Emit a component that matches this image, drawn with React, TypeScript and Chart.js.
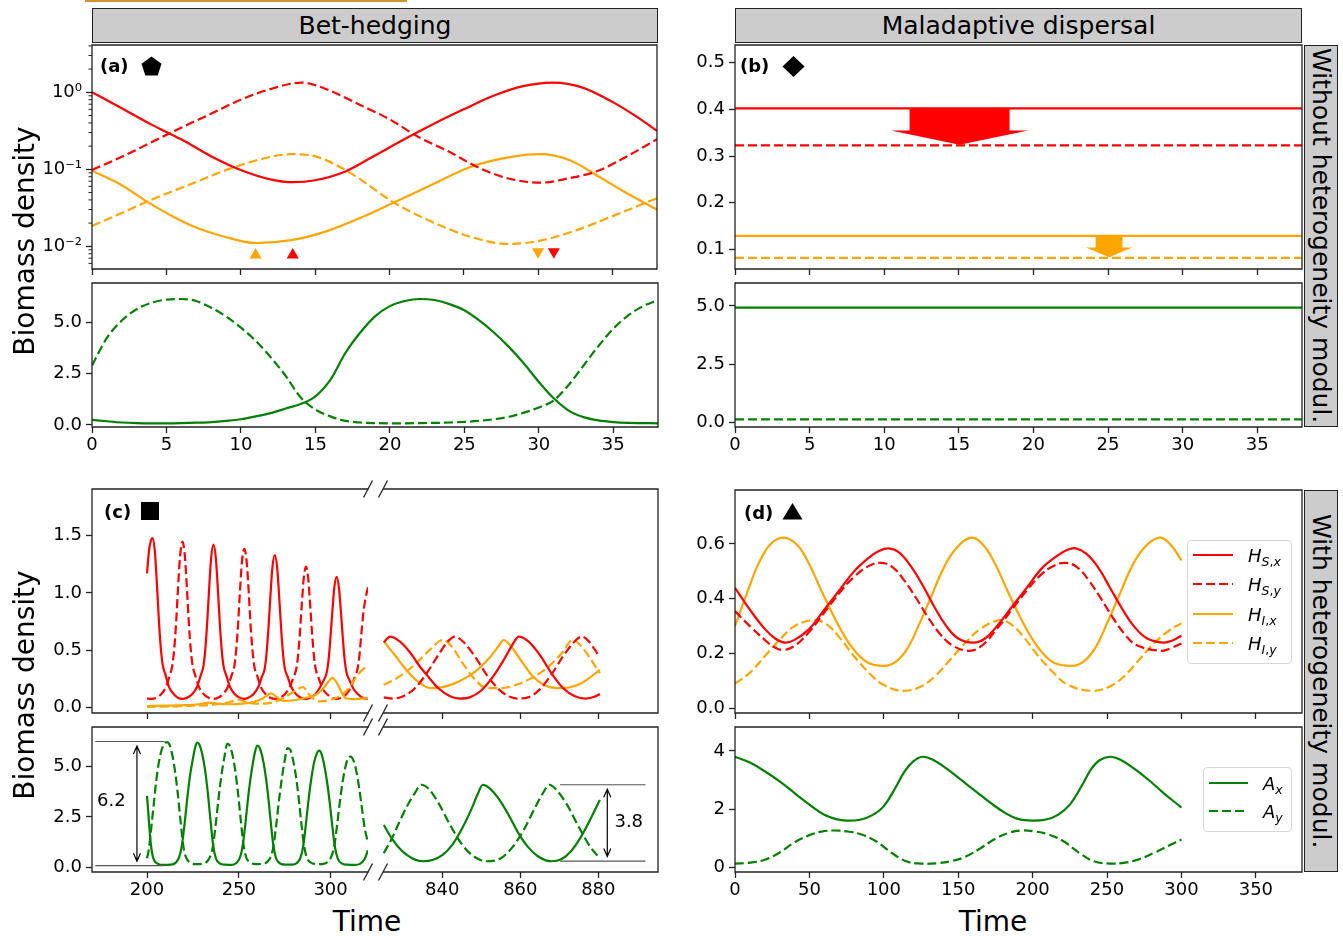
import React, { useEffect, useRef } from 'react';
import { Chart, registerables } from 'chart.js';

Chart.register(...registerables);

const RED = '#ff0000';
const ORANGE = '#ffa500';
const GREEN = '#008000';
const AX = '#222222';
const TXT = '#000000';
const DASH = [9, 4];
const FONT = "'DejaVu Sans', 'Liberation Sans', sans-serif";

type Pt = [number, number];

// ---------------- panel (a): bet-hedging, no heterogeneity ----------------
const aHSx: Pt[] = [[0, 1.0], [2, 0.62], [4, 0.38], [6, 0.245], [8, 0.148], [10, 0.098], [12, 0.074], [13.5, 0.068], [15, 0.072], [17, 0.093], [19, 0.15], [21, 0.245], [23, 0.39], [25, 0.6], [27, 0.9], [29, 1.2], [31, 1.335], [33, 1.15], [35, 0.75], [36.5, 0.5], [38, 0.316]];
const aHSy: Pt[] = [[0, 0.098], [2, 0.145], [4, 0.224], [6, 0.347], [8, 0.525], [10, 0.8], [12, 1.1], [14.1, 1.335], [16, 1.05], [18, 0.69], [20, 0.447], [22, 0.26], [24, 0.17], [26, 0.105], [28, 0.076], [30.2, 0.067], [32, 0.076], [34, 0.095], [36, 0.148], [38, 0.245]];
const aHIx: Pt[] = [[0, 0.096], [2, 0.062], [3.7, 0.038], [5.5, 0.024], [7, 0.0175], [8.8, 0.0135], [11, 0.011], [13.4, 0.012], [15.7, 0.0155], [18.3, 0.0245], [20.3, 0.037], [22.6, 0.0596], [25.5, 0.108], [28.3, 0.146], [30.1, 0.157], [32.1, 0.132], [34.1, 0.08], [35.8, 0.051], [38, 0.03]];
const aHIy: Pt[] = [[0, 0.0184], [1.8, 0.026], [3.7, 0.038], [6.8, 0.066], [9.3, 0.102], [11.6, 0.139], [13.4, 0.157], [15.1, 0.146], [17.4, 0.089], [20.3, 0.037], [22.6, 0.0219], [25.5, 0.0132], [28, 0.0107], [30.3, 0.012], [32.6, 0.0162], [35.5, 0.0269], [38, 0.042]];
const tA1 = [0, 1, 2, 3, 4, 5, 6, 7, 8, 9, 10, 11, 12, 13, 14, 15, 16, 17, 18, 19, 20, 21, 22, 23, 24, 25, 26, 27, 28, 29, 30, 31, 32, 33, 34, 35, 36, 37, 38];
const aAx = [0.25, 0.18, 0.12, 0.09, 0.08, 0.08, 0.09, 0.11, 0.14, 0.2, 0.28, 0.42, 0.58, 0.8, 1.02, 1.4, 2.2, 3.5, 4.5, 5.3, 5.8, 6.05, 6.15, 6.1, 5.9, 5.6, 5.1, 4.5, 3.8, 3.0, 2.1, 1.3, 0.7, 0.38, 0.22, 0.14, 0.1, 0.09, 0.08];
const aAy = [2.9, 4.25, 5.1, 5.65, 5.97, 6.12, 6.15, 6.05, 5.72, 5.3, 4.75, 4.1, 3.3, 2.4, 1.35, 0.75, 0.42, 0.2, 0.12, 0.09, 0.08, 0.08, 0.09, 0.1, 0.12, 0.15, 0.2, 0.28, 0.4, 0.6, 0.85, 1.2, 1.95, 2.9, 3.85, 4.7, 5.35, 5.8, 6.1];
const aMarkUpOrange = [11.0];
const aMarkUpRed = [13.5];
const aMarkDownOrange = [30.0];
const aMarkDownRed = [31.06];
const aMarkUpY = 0.0077;
const aMarkDownY = 0.0085;

// ---------------- panel (b): maladaptive dispersal, no heterogeneity ----------------
const tB = [0, 38];
const bHSx = 0.402;
const bHSy = 0.323;
const bHIx = 0.129;
const bHIy = 0.082;
const bAx = 4.93;
const bAy = 0.145;
// arrows: centre time, shaft half-width, head half-width (time units); top, head start, tip (density)
const bArrows = [
  { x: 15.05, shaft: 3.35, head: 4.6, top: 0.402, neck: 0.355, tip: 0.324 },
  { x: 25.07, shaft: 0.9, head: 1.55, top: 0.129, neck: 0.104, tip: 0.083 },
];

// ---------------- panel (c): bet-hedging, with heterogeneity ----------------
const cHSxL: Pt[] = [
  [200, 1.17], [201, 1.36], [202, 1.45], [203, 1.477], [204.3, 1.35], [205.5, 1.04], [206.5, 0.75], [207.5, 0.52], [208.5, 0.375], [210, 0.29], [212, 0.18], [214.5, 0.12], [217, 0.085], [219.2, 0.077],
  [221.5, 0.085], [224.7, 0.12], [227.2, 0.18], [229.2, 0.28], [230.7, 0.36], [231.7, 0.5], [232.7, 0.72], [233.7, 1.0], [234.9, 1.3], [236.2, 1.42], [237.5, 1.3], [238.7, 1.0], [239.7, 0.72], [240.7, 0.5], [241.7, 0.36], [243.2, 0.28], [245.2, 0.18], [247.7, 0.12], [250.7, 0.085], [252.8, 0.077],
  [254.9, 0.085], [258.1, 0.12], [260.6, 0.18], [262.6, 0.27], [264.1, 0.34], [265.1, 0.47], [266.1, 0.68], [267.1, 0.94], [268.3, 1.22], [269.6, 1.33], [270.9, 1.22], [272.1, 0.94], [273.1, 0.68], [274.1, 0.47], [275.1, 0.34], [276.6, 0.27], [278.6, 0.18], [281.1, 0.12], [284.1, 0.085], [286.4, 0.077],
  [288.6, 0.085], [291.8, 0.12], [294.3, 0.18], [296.3, 0.24], [297.8, 0.3], [298.8, 0.4], [299.8, 0.58], [300.8, 0.8], [302, 1.04], [303.3, 1.14], [304.6, 1.04], [305.8, 0.8], [306.8, 0.58], [307.8, 0.4], [308.8, 0.3], [310.3, 0.24], [312.3, 0.17], [314.8, 0.12], [317.8, 0.085], [320.4, 0.078],
];
const cHSyL: Pt[] = [
  [200, 0.08], [202.6, 0.077], [204.8, 0.085], [207.8, 0.12], [210.3, 0.18], [212.3, 0.28], [213.8, 0.37], [214.8, 0.51], [215.8, 0.73], [216.8, 1.02], [218, 1.32], [219.3, 1.447], [220.6, 1.32], [221.8, 1.02], [222.8, 0.73], [223.8, 0.51], [224.8, 0.37], [226.3, 0.28], [228.3, 0.18], [230.8, 0.12], [233.8, 0.085], [236.1, 0.077],
  [238.3, 0.085], [241.5, 0.12], [244, 0.18], [246, 0.28], [247.5, 0.355], [248.5, 0.49], [249.5, 0.7], [250.5, 0.98], [251.7, 1.27], [253, 1.384], [254.3, 1.27], [255.5, 0.98], [256.5, 0.7], [257.5, 0.49], [258.5, 0.355], [260, 0.28], [262, 0.18], [264.5, 0.12], [267.5, 0.085], [269.8, 0.077],
  [272, 0.085], [275.2, 0.12], [277.7, 0.18], [279.7, 0.26], [281.2, 0.33], [282.2, 0.44], [283.2, 0.63], [284.2, 0.87], [285.4, 1.13], [286.6, 1.23], [287.8, 1.13], [289, 0.87], [290, 0.63], [291, 0.44], [292, 0.33], [293.5, 0.26], [295.5, 0.17], [298, 0.12], [301, 0.085], [303.3, 0.077],
  [305.5, 0.085], [308.7, 0.12], [311.2, 0.18], [313.2, 0.27], [314.7, 0.34], [315.7, 0.45], [316.7, 0.63], [317.7, 0.8], [318.7, 0.92], [320.4, 1.05],
];
const cHIxL: Pt[] = [[200, 0.015], [210, 0.018], [220, 0.022], [228, 0.03], [233.7, 0.045], [238, 0.035], [245, 0.03], [252, 0.035], [258, 0.05], [263, 0.08], [267.6, 0.125], [271, 0.09], [274, 0.06], [280, 0.065], [286, 0.085], [290.3, 0.1], [295, 0.15], [298.5, 0.22], [301, 0.26], [304, 0.2], [306.5, 0.12], [308.6, 0.08], [314, 0.075], [320.4, 0.085]];
const cHIyL: Pt[] = [[200, 0.008], [215, 0.012], [225, 0.018], [235, 0.025], [244, 0.045], [250, 0.07], [254, 0.05], [260, 0.035], [268, 0.045], [274, 0.08], [279, 0.13], [284.9, 0.18], [289, 0.1], [294, 0.055], [300, 0.07], [305, 0.1], [310, 0.17], [314, 0.27], [318, 0.34], [320.4, 0.365]];
const cHSxR: Pt[] = [[825, 0.57], [826.6, 0.62], [829, 0.58], [832, 0.47], [834, 0.37], [836.4, 0.27], [839, 0.17], [842, 0.1], [844.5, 0.08], [847, 0.09], [850, 0.15], [853, 0.27], [856, 0.43], [858, 0.55], [859.6, 0.62], [862, 0.58], [865, 0.46], [868, 0.3], [871, 0.17], [874, 0.1], [876.8, 0.08], [879, 0.095], [880.4, 0.12]];
const cHSyR: Pt[] = [[825, 0.09], [827.4, 0.08], [830, 0.1], [833, 0.17], [836, 0.3], [839, 0.46], [841.5, 0.58], [843.2, 0.62], [845.5, 0.57], [848.5, 0.44], [851.5, 0.28], [854.5, 0.16], [857, 0.1], [859.3, 0.08], [862, 0.09], [865, 0.16], [868, 0.29], [871, 0.45], [874, 0.58], [875.7, 0.62], [877.5, 0.58], [880.4, 0.44]];
const cHIxR: Pt[] = [[825, 0.58], [828, 0.45], [831, 0.32], [834, 0.22], [837, 0.17], [840, 0.18], [843, 0.21], [846, 0.26], [849, 0.33], [852, 0.43], [854.5, 0.54], [855.7, 0.59], [857.5, 0.54], [860, 0.42], [863, 0.28], [866, 0.2], [869.5, 0.17], [873, 0.18], [876, 0.22], [880.4, 0.33]];
const cHIyR: Pt[] = [[825, 0.2], [828, 0.25], [831, 0.32], [834, 0.41], [837, 0.51], [840.1, 0.59], [842.5, 0.53], [845, 0.4], [848, 0.26], [851.5, 0.17], [855, 0.17], [859, 0.2], [863, 0.26], [867, 0.35], [870.5, 0.47], [873.5, 0.59], [876, 0.52], [878.5, 0.4], [880.4, 0.3]];
const cAxL: Pt[] = [[200, 3.55], [201, 2.3], [202, 1.2], [203, 0.6], [204, 0.32], [206, 0.17], [209, 0.12], [213, 0.13], [215.5, 0.22], [217.5, 0.5], [219, 1.1], [220.5, 2.2], [222, 3.5], [223.5, 4.6], [225, 5.4], [226.2, 5.95], [227.3, 6.2], [228.5, 6.1], [230, 5.65], [231.5, 4.9], [233, 3.8], [234.5, 2.4], [236, 1.1], [237.5, 0.45], [239.5, 0.2], [242.5, 0.13], [246, 0.12], [248.5, 0.2], [250.5, 0.45], [252, 1.0], [253.5, 2.1], [255, 3.4], [256.5, 4.5], [258, 5.35], [259, 5.8], [260.1, 6.05], [261.3, 5.95], [262.8, 5.5], [264.3, 4.75], [265.8, 3.7], [267.3, 2.35], [268.8, 1.1], [270.3, 0.45], [272.3, 0.2], [275.5, 0.13], [279, 0.13], [281.5, 0.2], [283.5, 0.45], [285, 1.0], [286.5, 2.1], [288, 3.35], [289.5, 4.4], [291, 5.2], [292.5, 5.65], [293.8, 5.8], [295, 5.65], [296.5, 5.1], [298, 4.3], [299.5, 3.25], [301, 2.0], [302.5, 0.95], [304, 0.42], [306, 0.2], [309, 0.13], [313, 0.12], [316, 0.17], [318.5, 0.4], [320.4, 0.85]];
const cAyL: Pt[] = [[200, 0.45], [201, 0.9], [202, 1.7], [203.5, 3.0], [205, 4.3], [206.5, 5.25], [208, 5.85], [209.5, 6.15], [210.9, 6.22], [212.2, 6.1], [213.7, 5.6], [215.2, 4.8], [216.7, 3.7], [218.2, 2.35], [219.7, 1.1], [221.2, 0.5], [223.2, 0.25], [226.5, 0.16], [230, 0.17], [232.5, 0.27], [234.5, 0.55], [236, 1.1], [237.5, 2.2], [239, 3.45], [240.5, 4.55], [242, 5.4], [243.7, 6.13], [245, 6.05], [246.5, 5.6], [248, 4.85], [249.5, 3.75], [251, 2.4], [252.5, 1.15], [254, 0.5], [256, 0.25], [259.5, 0.16], [263, 0.17], [265.5, 0.27], [267.5, 0.55], [269, 1.1], [270.5, 2.2], [272, 3.4], [273.5, 4.45], [275, 5.3], [276.5, 5.92], [278, 5.85], [279.5, 5.35], [281, 4.6], [282.5, 3.55], [284, 2.25], [285.5, 1.1], [287, 0.5], [289, 0.25], [292.5, 0.16], [296, 0.17], [298.5, 0.27], [300.5, 0.55], [302, 1.05], [303.5, 2.05], [305, 3.2], [306.5, 4.2], [308, 4.95], [309.5, 5.4], [311, 5.5], [312.5, 5.3], [314, 4.8], [315.5, 4.0], [317, 3.0], [318.5, 2.0], [320.4, 1.2]];
const cAxR: Pt[] = [[825, 2.1], [827, 1.45], [829, 0.95], [831, 0.6], [833, 0.38], [835.1, 0.3], [837.5, 0.36], [840, 0.6], [842.5, 1.1], [845, 1.9], [847.5, 2.9], [849, 3.6], [850.4, 4.1], [852, 3.95], [854.5, 3.4], [857, 2.6], [859.5, 1.7], [862, 1.0], [864.5, 0.55], [867.9, 0.3], [870.5, 0.4], [873, 0.8], [875.5, 1.5], [878, 2.4], [880.4, 3.35]];
const cAyR: Pt[] = [[825, 0.7], [827, 1.4], [829, 2.25], [831, 3.05], [833, 3.7], [834.6, 4.1], [836.5, 3.9], [839, 3.2], [842, 2.1], [845, 1.15], [848, 0.55], [851.5, 0.3], [855, 0.45], [858, 1.0], [861, 1.9], [864, 3.05], [866, 3.75], [867.4, 4.1], [869, 3.9], [872, 3.1], [875, 2.0], [878, 1.0], [880.4, 0.45]];
// amplitude annotations: guide lines [t0, t1, level], arrow [t, top, bottom], label position [t, y]
const cAnnLeft = { lines: [[171.8, 209.5, 6.25], [171.8, 209.5, 0.08]], arrow: [194.5, 6.25, 0.08], label: [180.5, 3.26], text: '6.2' };
const cAnnRight = { lines: [[870.2, 892.1, 4.1], [870.2, 892.1, 0.31]], arrow: [882.3, 4.1, 0.31], label: [887.8, 2.24], text: '3.8' };

// ---------------- panel (d): maladaptive dispersal, with heterogeneity ----------------
const dHSx: Pt[] = [[0, 0.44], [10, 0.36], [20, 0.29], [27, 0.255], [33.6, 0.24], [40, 0.25], [50, 0.29], [60, 0.36], [70, 0.43], [80, 0.5], [90, 0.55], [97, 0.575], [103.2, 0.584], [110, 0.57], [118, 0.52], [126, 0.45], [134, 0.37], [142, 0.3], [150, 0.255], [160.1, 0.24], [168, 0.255], [176, 0.3], [186, 0.37], [196, 0.44], [206, 0.51], [216, 0.555], [223, 0.578], [229.1, 0.584], [236, 0.565], [244, 0.515], [252, 0.44], [260, 0.365], [268, 0.3], [277, 0.255], [288.1, 0.24], [294, 0.248], [300, 0.265]];
const dHSy: Pt[] = [[0, 0.355], [10, 0.3], [20, 0.25], [26, 0.225], [32, 0.213], [40, 0.228], [50, 0.28], [60, 0.35], [70, 0.42], [80, 0.48], [90, 0.52], [98.3, 0.531], [106, 0.515], [114, 0.465], [122, 0.4], [130, 0.33], [138, 0.27], [146, 0.23], [157, 0.21], [165, 0.225], [176, 0.29], [186, 0.36], [196, 0.43], [206, 0.49], [214, 0.52], [222, 0.531], [230, 0.515], [238, 0.465], [246, 0.4], [254, 0.33], [262, 0.27], [270, 0.23], [286.7, 0.21], [293, 0.22], [300, 0.237]];
const dHIx: Pt[] = [[0, 0.3], [8, 0.42], [16, 0.53], [24, 0.6], [33, 0.623], [42, 0.595], [50, 0.525], [58, 0.43], [66, 0.34], [74, 0.26], [82, 0.2], [90, 0.165], [99.7, 0.155], [108, 0.17], [116, 0.22], [124, 0.31], [132, 0.41], [140, 0.51], [148, 0.58], [158.7, 0.623], [167, 0.595], [175, 0.525], [183, 0.43], [191, 0.34], [199, 0.26], [207, 0.2], [215, 0.165], [226.3, 0.155], [234, 0.17], [242, 0.22], [250, 0.31], [258, 0.41], [266, 0.51], [274, 0.58], [285.2, 0.623], [293, 0.595], [300, 0.54]];
const dHIy: Pt[] = [[0, 0.09], [10, 0.13], [20, 0.19], [30, 0.25], [40, 0.3], [53.7, 0.322], [62, 0.305], [70, 0.26], [80, 0.19], [90, 0.13], [100, 0.085], [113, 0.064], [125, 0.08], [135, 0.12], [145, 0.18], [155, 0.24], [165, 0.29], [178, 0.322], [186, 0.305], [194, 0.26], [204, 0.19], [214, 0.13], [224, 0.085], [240, 0.064], [252, 0.08], [262, 0.12], [272, 0.18], [282, 0.24], [292, 0.285], [300, 0.31]];
const dAx: Pt[] = [[0, 3.8], [10, 3.6], [20, 3.3], [30, 2.95], [40, 2.55], [50, 2.15], [60, 1.8], [68, 1.65], [75, 1.6], [84, 1.63], [92, 1.78], [100, 2.1], [108, 2.75], [114, 3.3], [120, 3.65], [126, 3.8], [133, 3.7], [142, 3.4], [152, 3.0], [162, 2.6], [172, 2.2], [182, 1.85], [190, 1.66], [200, 1.6], [209, 1.64], [217, 1.8], [225, 2.15], [233, 2.8], [239, 3.35], [245, 3.68], [252, 3.8], [259, 3.7], [268, 3.4], [278, 3.0], [288, 2.55], [300, 2.05]];
const dAy: Pt[] = [[0, 0.12], [10, 0.15], [20, 0.25], [30, 0.5], [40, 0.85], [50, 1.1], [58, 1.22], [66, 1.26], [75, 1.23], [85, 1.12], [95, 0.88], [105, 0.5], [115, 0.2], [125, 0.12], [135, 0.13], [145, 0.2], [155, 0.36], [165, 0.65], [175, 0.98], [184, 1.18], [192, 1.26], [201, 1.23], [211, 1.12], [221, 0.88], [231, 0.5], [241, 0.2], [252, 0.12], [262, 0.15], [272, 0.28], [282, 0.5], [292, 0.75], [300, 0.95]];

// ---------------- ticks ----------------
const ticksAB = [0, 5, 10, 15, 20, 25, 30, 35];
const ticksCL = [200, 250, 300];
const ticksCR = [840, 860, 880];
const ticksD = [0, 50, 100, 150, 200, 250, 300, 350];
const logMajor = [0.01, 0.1, 1];
const logMinor = [0.006, 0.007, 0.008, 0.009, 0.02, 0.03, 0.04, 0.05, 0.06, 0.07, 0.08, 0.09, 0.2, 0.3, 0.4, 0.5, 0.6, 0.7, 0.8, 0.9, 2, 3, 4];
const logLabels: Record<string, string> = { '-2': '10\u207B\u00B2', '-1': '10\u207B\u00B9', '0': '10\u2070' };

// ---------------- helpers ----------------
const fromArrays = (t: number[], v: number[]) => t.map((x, i) => ({ x, y: v[i] }));
const fromPairs = (p: Pt[]) => p.map(([x, y]) => ({ x, y }));
const flat = (t: number[], v: number) => t.map((x) => ({ x, y: v }));

function line(data: any[], color: string, dashed: boolean, smooth = false) {
  return {
    data,
    borderColor: color,
    borderWidth: 2.2,
    borderDash: dashed ? DASH : [],
    pointRadius: 0,
    cubicInterpolationMode: smooth ? 'default' : 'monotone',
    tension: smooth ? 0.4 : 0,
    fill: false,
  };
}

function markers(xs: number[], y: number, color: string, down: boolean) {
  return {
    data: xs.map((x) => ({ x, y })),
    showLine: false,
    pointStyle: 'triangle',
    pointRadius: 7,
    pointRotation: down ? 180 : 0,
    pointBackgroundColor: color,
    pointBorderWidth: 0,
    borderColor: color,
  };
}

type Box = { l: number; t: number; r: number; b: number };
type PanelProps = {
  box: Box;
  datasets: any[];
  x: [number, number];
  xTicks: number[];
  xLabels: boolean;
  y: [number, number];
  yTicks?: number[];
  yFmt?: (v: number) => string;
  yLog?: boolean;
  yShow?: boolean;
  sides?: { l?: boolean; r?: boolean; t?: boolean; b?: boolean };
  minorY?: number[];
  draw?: (chart: any) => void;
};

const PAD_L = 72;
const PAD_T = 18;
const PAD_R = 6;

function Panel(p: PanelProps) {
  const ref = useRef<HTMLCanvasElement>(null);
  const yShow = p.yShow !== false;
  const padL = yShow ? PAD_L : 0;
  const padB = p.xLabels ? 32 : 18;
  const w = p.box.r - p.box.l + padL + PAD_R;
  const h = p.box.b - p.box.t + PAD_T + padB;

  useEffect(() => {
    const sides = { l: true, r: true, t: true, b: true, ...(p.sides || {}) };
    const tickFont = { family: FONT, size: 18 };
    const grid = { drawOnChartArea: false, drawTicks: true, tickLength: 6, tickColor: AX, tickWidth: 1.3 };
    const chart = new Chart(ref.current as HTMLCanvasElement, {
      type: 'line',
      data: { datasets: p.datasets },
      options: {
        animation: false,
        responsive: false,
        maintainAspectRatio: false,
        devicePixelRatio: 1,
        events: [],
        layout: { padding: { left: 0, top: PAD_T, right: PAD_R, bottom: 0 } },
        plugins: { legend: { display: false }, tooltip: { enabled: false } },
        scales: {
          x: {
            type: 'linear',
            min: p.x[0],
            max: p.x[1],
            afterBuildTicks: (ax: any) => {
              ax.ticks = p.xTicks.map((v) => ({ value: v }));
            },
            afterFit: (ax: any) => {
              ax.height = padB;
            },
            ticks: {
              autoSkip: false,
              maxRotation: 0,
              padding: 2,
              color: TXT,
              font: tickFont,
              callback: (v: any) => (p.xLabels ? String(v) : ''),
            },
            grid,
            border: { display: false },
          },
          y: {
            type: p.yLog ? 'logarithmic' : 'linear',
            display: yShow,
            min: p.y[0],
            max: p.y[1],
            afterBuildTicks: (ax: any) => {
              ax.ticks = (p.yTicks || []).map((v) => ({ value: v }));
            },
            afterFit: (ax: any) => {
              ax.width = padL;
            },
            ticks: {
              autoSkip: false,
              padding: 4,
              color: TXT,
              font: tickFont,
              callback: (v: any) => (p.yFmt ? p.yFmt(Number(v)) : String(v)),
            },
            grid,
            border: { display: false },
          },
        },
      } as any,
      plugins: [
        {
          id: 'decor',
          afterDatasetsDraw(chart: any) {
            if (p.draw) p.draw(chart);
          },
          afterDraw(chart: any) {
            const { ctx, chartArea: a } = chart;
            ctx.save();
            ctx.strokeStyle = AX;
            ctx.lineWidth = 1.3;
            ctx.lineCap = 'square';
            ctx.beginPath();
            if (sides.t) { ctx.moveTo(a.left, a.top); ctx.lineTo(a.right, a.top); }
            if (sides.b) { ctx.moveTo(a.left, a.bottom); ctx.lineTo(a.right, a.bottom); }
            if (sides.l) { ctx.moveTo(a.left, a.top); ctx.lineTo(a.left, a.bottom); }
            if (sides.r) { ctx.moveTo(a.right, a.top); ctx.lineTo(a.right, a.bottom); }
            ctx.stroke();
            if (p.minorY) {
              const ys = chart.scales.y;
              ctx.lineWidth = 1;
              ctx.lineCap = 'butt';
              ctx.beginPath();
              p.minorY.forEach((v) => {
                const y = ys.getPixelForValue(v);
                ctx.moveTo(a.left - 3.5, y);
                ctx.lineTo(a.left, y);
              });
              ctx.stroke();
            }
            ctx.restore();
          },
        },
      ],
    });
    return () => chart.destroy();
  }, []);

  return (
    <canvas
      ref={ref}
      width={w}
      height={h}
      style={{ position: 'absolute', left: p.box.l - padL, top: p.box.t - PAD_T, width: w, height: h }}
    />
  );
}

const fmt1 = (v: number) => v.toFixed(1);
const fmtInt = (v: number) => String(Math.round(v));
const fmtLog = (v: number) => logLabels[String(Math.round(Math.log10(v)))] || '';

function drawArrowsB(chart: any) {
  const { ctx } = chart;
  const xs = chart.scales.x;
  const ys = chart.scales.y;
  const colors = [RED, ORANGE];
  bArrows.forEach((a, i) => {
    const X = (v: number) => xs.getPixelForValue(v);
    const Y = (v: number) => ys.getPixelForValue(v);
    ctx.save();
    ctx.fillStyle = colors[i];
    ctx.beginPath();
    ctx.moveTo(X(a.x - a.shaft), Y(a.top));
    ctx.lineTo(X(a.x + a.shaft), Y(a.top));
    ctx.lineTo(X(a.x + a.shaft), Y(a.neck));
    ctx.lineTo(X(a.x + a.head), Y(a.neck));
    ctx.lineTo(X(a.x), Y(a.tip));
    ctx.lineTo(X(a.x - a.head), Y(a.neck));
    ctx.lineTo(X(a.x - a.shaft), Y(a.neck));
    ctx.closePath();
    ctx.fill();
    ctx.restore();
  });
}

function makeAnnot(ann: { lines: number[][]; arrow: number[]; label: number[]; text: string }) {
  return (chart: any) => {
    const { ctx } = chart;
    const xs = chart.scales.x;
    const ys = chart.scales.y;
    ctx.save();
    ctx.strokeStyle = '#555555';
    ctx.lineWidth = 1.2;
    ctx.beginPath();
    ann.lines.forEach(([x0, x1, yv]) => {
      const y = ys.getPixelForValue(yv);
      ctx.moveTo(xs.getPixelForValue(x0), y);
      ctx.lineTo(xs.getPixelForValue(x1), y);
    });
    ctx.stroke();
    const px = xs.getPixelForValue(ann.arrow[0]);
    const p0 = ys.getPixelForValue(ann.arrow[1]) + 4.5;
    const p1 = ys.getPixelForValue(ann.arrow[2]) - 4.5;
    ctx.strokeStyle = '#000000';
    ctx.lineWidth = 1.2;
    ctx.beginPath();
    ctx.moveTo(px, p0);
    ctx.lineTo(px, p1);
    ctx.moveTo(px - 3.5, p0 + 8);
    ctx.lineTo(px, p0);
    ctx.lineTo(px + 3.5, p0 + 8);
    ctx.moveTo(px - 3.5, p1 - 8);
    ctx.lineTo(px, p1);
    ctx.lineTo(px + 3.5, p1 - 8);
    ctx.stroke();
    ctx.fillStyle = TXT;
    ctx.font = `18px ${FONT}`;
    ctx.textAlign = 'center';
    ctx.textBaseline = 'middle';
    ctx.fillText(ann.text, xs.getPixelForValue(ann.label[0]), ys.getPixelForValue(ann.label[1]));
    ctx.restore();
  };
}

// ---------------- overlays ----------------
const legendTop = [
  { base: 'H', sub: ['S', 'x'], color: RED, dashed: false },
  { base: 'H', sub: ['S', 'y'], color: RED, dashed: true },
  { base: 'H', sub: ['I', 'x'], color: ORANGE, dashed: false },
  { base: 'H', sub: ['I', 'y'], color: ORANGE, dashed: true },
];
const legendBottom = [
  { base: 'A', sub: ['x'], color: GREEN, dashed: false },
  { base: 'A', sub: ['y'], color: GREEN, dashed: true },
];

function Legend(props: { items: typeof legendTop; l: number; t: number; w: number; h: number; rows: number[]; lx0: number; lx1: number; tx: number }) {
  return (
    <>
      <div
        style={{
          position: 'absolute', left: props.l, top: props.t, width: props.w, height: props.h, boxSizing: 'border-box',
          border: '1px solid #d6d6d6', borderRadius: 4, background: 'rgba(255,255,255,0.85)',
        }}
      />
      <svg style={{ position: 'absolute', left: 0, top: 0, overflow: 'visible' }} width={1} height={1}>
        {props.items.map((it, i) => (
          <line key={i} x1={props.lx0} x2={props.lx1} y1={props.rows[i]} y2={props.rows[i]} stroke={it.color} strokeWidth={2.2} strokeDasharray={it.dashed ? DASH.join(' ') : undefined} />
        ))}
      </svg>
      {props.items.map((it, i) => (
        <div key={'t' + i} style={{ position: 'absolute', left: props.tx, top: props.rows[i] - 11, height: 24, lineHeight: '24px', fontSize: 18, fontFamily: FONT, whiteSpace: 'nowrap', color: TXT }}>
          <i>{it.base}</i>
          <span style={{ fontSize: 12.5, position: 'relative', top: 4, lineHeight: 0 }}>
            {it.sub.map((s, j) => (
              <React.Fragment key={j}>
                {j > 0 ? ',' : ''}
                <i>{s}</i>
              </React.Fragment>
            ))}
          </span>
        </div>
      ))}
    </>
  );
}

const headerStyle: React.CSSProperties = {
  position: 'absolute', top: 8, height: 35, boxSizing: 'border-box', border: `1px solid ${AX}`, background: '#cccccc',
  display: 'flex', alignItems: 'center', justifyContent: 'center', fontFamily: FONT, fontSize: 25, color: TXT,
};
const sideStyle: React.CSSProperties = {
  position: 'absolute', left: 1304, width: 34, boxSizing: 'border-box', border: `1px solid ${AX}`, background: '#cccccc',
  display: 'flex', alignItems: 'center', justifyContent: 'center', fontFamily: FONT, fontSize: 25, color: TXT,
};
const panelLabel: React.CSSProperties = { position: 'absolute', fontFamily: FONT, fontWeight: 'bold', fontSize: 18, lineHeight: '24px', color: TXT };
const yTitle: React.CSSProperties = {
  position: 'absolute', fontFamily: FONT, fontSize: 28, lineHeight: 1, whiteSpace: 'nowrap', color: TXT, transform: 'translate(-50%, -50%) rotate(-90deg)',
};
const xTitle: React.CSSProperties = { position: 'absolute', fontFamily: FONT, fontSize: 28, lineHeight: 1, whiteSpace: 'nowrap', color: TXT, transform: 'translateX(-50%)' };

const breakYs = [489, 713, 727, 872];
const breakXs = [368, 383];

export default function App() {
  const A_TOP: Box = { l: 92, t: 45, r: 658, b: 269 };
  const A_BOT: Box = { l: 92, t: 283, r: 658, b: 427 };
  const B_TOP: Box = { l: 735, t: 45, r: 1302, b: 269 };
  const B_BOT: Box = { l: 735, t: 283, r: 1302, b: 427 };
  const C_TOP_L: Box = { l: 92, t: 489, r: 368, b: 713 };
  const C_TOP_R: Box = { l: 383, t: 489, r: 658, b: 713 };
  const C_BOT_L: Box = { l: 92, t: 727, r: 368, b: 872 };
  const C_BOT_R: Box = { l: 383, t: 727, r: 658, b: 872 };
  const D_TOP: Box = { l: 735, t: 490, r: 1302, b: 713 };
  const D_BOT: Box = { l: 735, t: 727, r: 1302, b: 872 };
  const cLx: [number, number] = [170.0, 320.4];
  const cRx: [number, number] = [824.8, 895.3];
  const cTopY: [number, number] = [-0.046, 1.905];
  const cBotY: [number, number] = [-0.234, 6.97];

  return (
    <div style={{ position: 'absolute', left: 0, top: 0, width: 1343, height: 936, background: '#ffffff', overflow: 'hidden' }}>
      <Panel
        box={A_TOP} x={[0, 38]} xTicks={ticksAB} xLabels={false}
        y={[0.00507, 4.11]} yLog yTicks={logMajor} yFmt={fmtLog} minorY={logMinor}
        datasets={[
          line(fromPairs(aHSx), RED, false),
          line(fromPairs(aHSy), RED, true),
          line(fromPairs(aHIx), ORANGE, false),
          line(fromPairs(aHIy), ORANGE, true),
          markers(aMarkUpOrange, aMarkUpY, ORANGE, false),
          markers(aMarkUpRed, aMarkUpY, RED, false),
          markers(aMarkDownOrange, aMarkDownY, ORANGE, true),
          markers(aMarkDownRed, aMarkDownY, RED, true),
        ]}
      />
      <Panel
        box={A_BOT} x={[0, 38]} xTicks={ticksAB} xLabels
        y={[-0.1, 6.93]} yTicks={[0, 2.5, 5]} yFmt={fmt1}
        datasets={[line(fromArrays(tA1, aAx), GREEN, false), line(fromArrays(tA1, aAy), GREEN, true)]}
      />
      <Panel
        box={B_TOP} x={[0, 38]} xTicks={ticksAB} xLabels={false}
        y={[0.058, 0.538]} yTicks={[0.1, 0.2, 0.3, 0.4, 0.5]} yFmt={fmt1}
        draw={drawArrowsB}
        datasets={[
          line(flat(tB, bHSx), RED, false),
          line(flat(tB, bHSy), RED, true),
          line(flat(tB, bHIx), ORANGE, false),
          line(flat(tB, bHIy), ORANGE, true),
        ]}
      />
      <Panel
        box={B_BOT} x={[0, 38]} xTicks={ticksAB} xLabels
        y={[-0.18, 5.98]} yTicks={[0, 2.5, 5]} yFmt={fmt1}
        datasets={[line(flat(tB, bAx), GREEN, false), line(flat(tB, bAy), GREEN, true)]}
      />
      <Panel
        box={C_TOP_L} x={cLx} xTicks={ticksCL} xLabels={false}
        y={cTopY} yTicks={[0, 0.5, 1, 1.5]} yFmt={fmt1} sides={{ r: false }}
        datasets={[
          line(fromPairs(cHIxL), ORANGE, false),
          line(fromPairs(cHIyL), ORANGE, true),
          line(fromPairs(cHSxL), RED, false),
          line(fromPairs(cHSyL), RED, true),
        ]}
      />
      <Panel
        box={C_TOP_R} x={cRx} xTicks={ticksCR} xLabels={false}
        y={cTopY} yShow={false} sides={{ l: false }}
        datasets={[
          line(fromPairs(cHSxR), RED, false),
          line(fromPairs(cHSyR), RED, true),
          line(fromPairs(cHIxR), ORANGE, false),
          line(fromPairs(cHIyR), ORANGE, true),
        ]}
      />
      <Panel
        box={C_BOT_L} x={cLx} xTicks={ticksCL} xLabels
        y={cBotY} yTicks={[0, 2.5, 5]} yFmt={fmt1} sides={{ r: false }}
        draw={makeAnnot(cAnnLeft)}
        datasets={[line(fromPairs(cAxL), GREEN, false), line(fromPairs(cAyL), GREEN, true)]}
      />
      <Panel
        box={C_BOT_R} x={cRx} xTicks={ticksCR} xLabels
        y={cBotY} yShow={false} sides={{ l: false }}
        draw={makeAnnot(cAnnRight)}
        datasets={[line(fromPairs(cAxR), GREEN, false), line(fromPairs(cAyR), GREEN, true)]}
      />
      <Panel
        box={D_TOP} x={[0, 381]} xTicks={ticksD} xLabels={false}
        y={[-0.017, 0.797]} yTicks={[0, 0.2, 0.4, 0.6]} yFmt={fmt1}
        datasets={[
          line(fromPairs(dHSx), RED, false, true),
          line(fromPairs(dHSy), RED, true, true),
          line(fromPairs(dHIx), ORANGE, false, true),
          line(fromPairs(dHIy), ORANGE, true, true),
        ]}
      />
      <Panel
        box={D_BOT} x={[0, 381]} xTicks={ticksD} xLabels
        y={[-0.17, 4.825]} yTicks={[0, 2, 4]} yFmt={fmtInt}
        datasets={[line(fromPairs(dAx), GREEN, false, true), line(fromPairs(dAy), GREEN, true, true)]}
      />

      {/* thin rule at the very top */}
      <div style={{ position: 'absolute', left: 85, top: 0, width: 322, height: 2, background: '#cf9431' }} />

      {/* column headers */}
      <div style={{ ...headerStyle, left: 92, width: 566 }}>Bet-hedging</div>
      <div style={{ ...headerStyle, left: 735, width: 567 }}>Maladaptive dispersal</div>

      {/* row labels */}
      <div style={{ ...sideStyle, top: 45, height: 382 }}>
        <span style={{ writingMode: 'vertical-rl', whiteSpace: 'nowrap', lineHeight: 1 }}>Without heterogeneity modul.</span>
      </div>
      <div style={{ ...sideStyle, top: 490, height: 382 }}>
        <span style={{ writingMode: 'vertical-rl', whiteSpace: 'nowrap', lineHeight: 1 }}>With heterogeneity modul.</span>
      </div>

      {/* axis titles */}
      <div style={{ ...yTitle, left: 25, top: 241 }}>Biomass density</div>
      <div style={{ ...yTitle, left: 25, top: 685 }}>Biomass density</div>
      <div style={{ ...xTitle, left: 367, top: 908 }}>Time</div>
      <div style={{ ...xTitle, left: 993, top: 908 }}>Time</div>

      {/* panel labels and symbols */}
      <div style={{ ...panelLabel, left: 100, top: 54 }}>(a)</div>
      <div style={{ ...panelLabel, left: 740, top: 54 }}>(b)</div>
      <div style={{ ...panelLabel, left: 104, top: 500 }}>(c)</div>
      <div style={{ ...panelLabel, left: 744, top: 501 }}>(d)</div>
      <svg style={{ position: 'absolute', left: 0, top: 0, pointerEvents: 'none' }} width={1343} height={936}>
        <polygon points="151.5,56.5 161.5,63.8 157.7,75.5 145.3,75.5 141.5,63.8" fill="#000" />
        <polygon points="793.5,56 804.5,66.5 793.5,77 782.5,66.5" fill="#000" />
        <rect x={141} y={502} width={18} height={18} fill="#000" />
        <polygon points="792.5,503 802.5,519.5 782.5,519.5" fill="#000" />
        {breakYs.map((y) =>
          breakXs.map((x) => (
            <line key={`${x}-${y}`} x1={x - 4.5} y1={y + 8.5} x2={x + 4.5} y2={y - 8.5} stroke={AX} strokeWidth={1.3} />
          ))
        )}
      </svg>

      {/* legends of panel (d) */}
      <Legend items={legendTop} l={1187} t={540} w={105} h={124} rows={[555, 584, 614, 643]} lx0={1193} lx1={1233} tx={1248} />
      <Legend items={legendBottom} l={1203} t={767} w={89} h={65} rows={[783, 811]} lx0={1209} lx1={1248} tx={1263} />
    </div>
  );
}
